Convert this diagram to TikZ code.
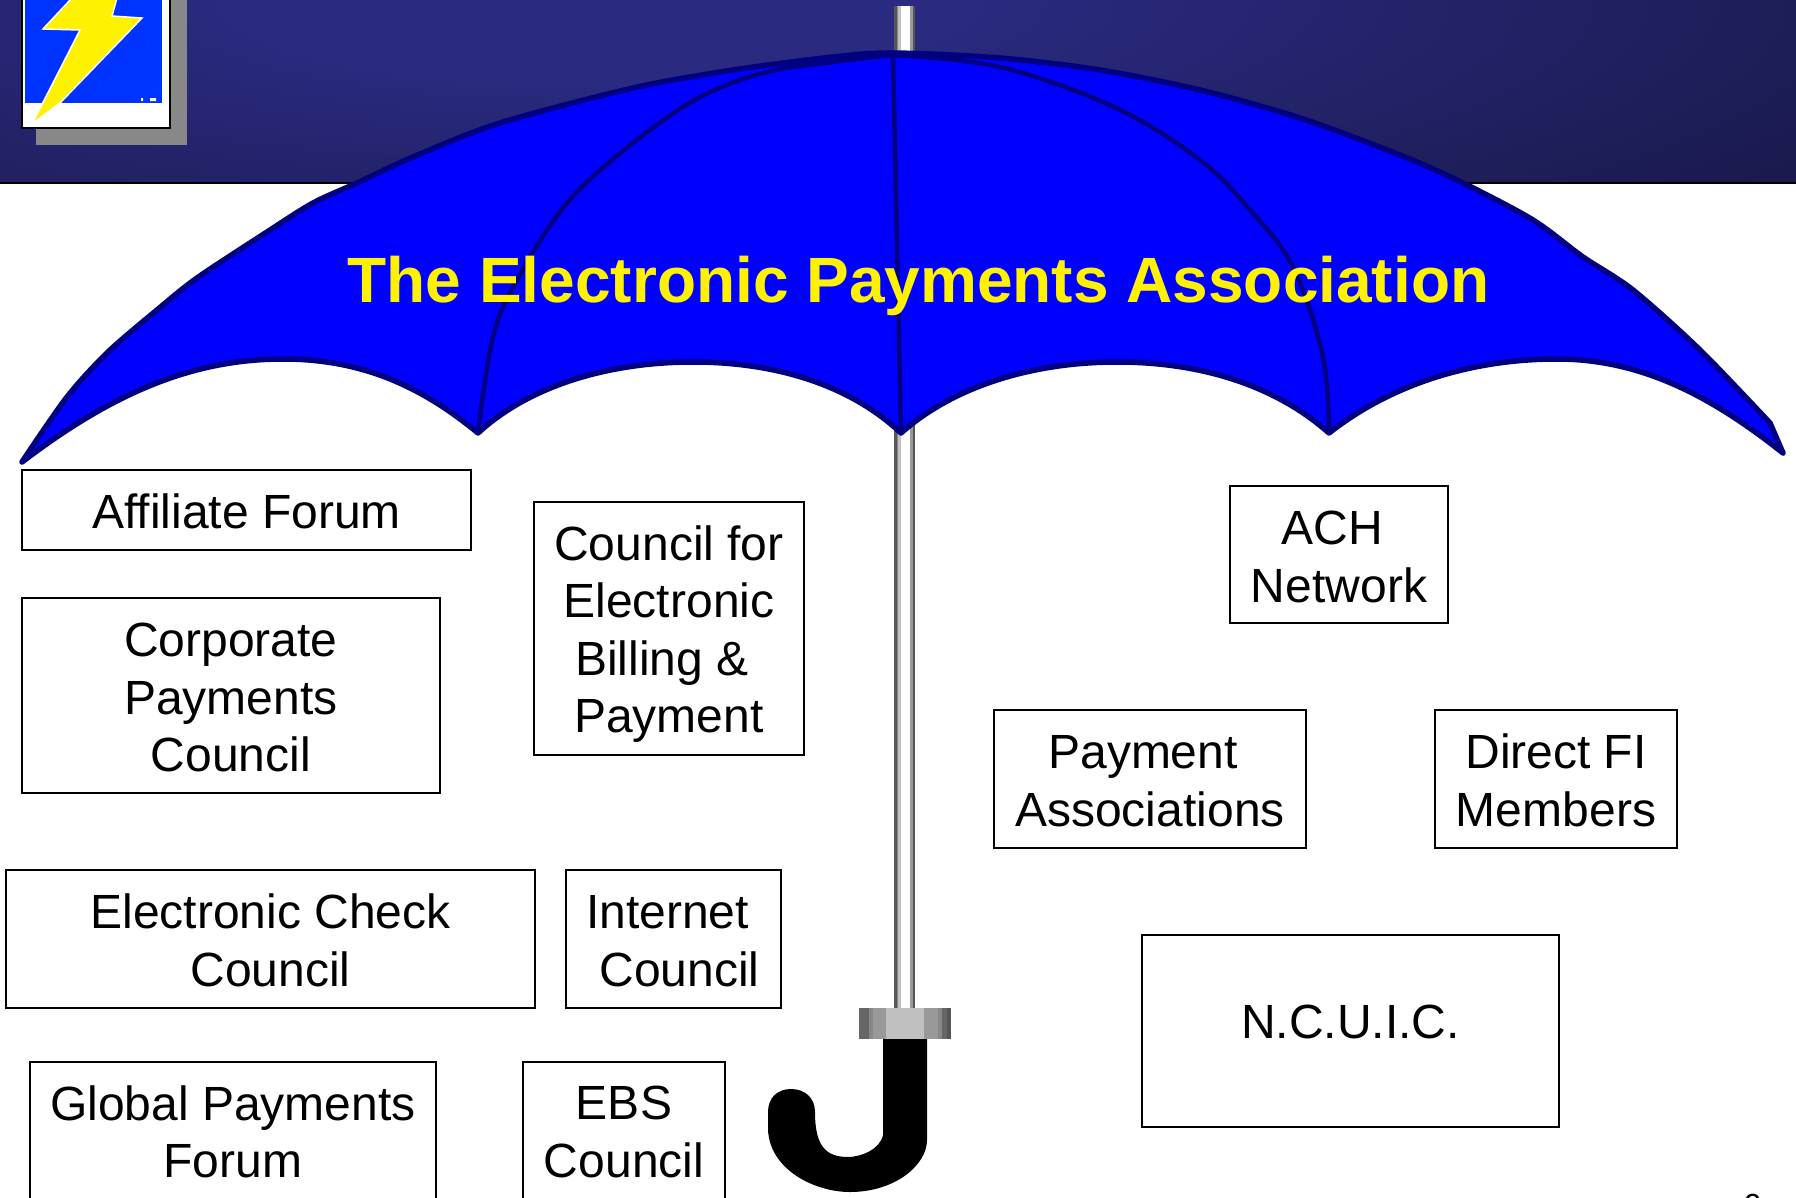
\documentclass[tikz,border=0pt]{standalone}
\usepackage{fontspec}
\setmainfont{Liberation Sans}
\definecolor{hdrlight}{RGB}{42,42,128}
\definecolor{hdrdark}{RGB}{21,21,62}
\definecolor{rib}{RGB}{0,0,128}
\definecolor{canopy}{RGB}{0,0,255}
\definecolor{logoblue}{RGB}{0,51,255}
\definecolor{sd}{RGB}{85,85,85}
\definecolor{sg}{RGB}{136,136,136}
\definecolor{sl}{RGB}{192,192,192}
\definecolor{sm}{RGB}{153,153,153}
\definecolor{fd}{RGB}{102,102,102}
\pgfdeclareradialshading{hdrglow}{\pgfpoint{0bp}{0bp}}{color(0bp)=(hdrlight); color(5bp)=(hdrlight); color(25bp)=(hdrdark); color(50bp)=(hdrdark)}
\tikzset{
  boxnode/.style={draw=black,line width=2pt,fill=white,inner sep=0pt,align=center,
    font=\fontsize{48}{57.6}\selectfont,text=black},
  ribline/.style={draw=rib,line width=4.5pt,line join=round},
}
\begin{document}
\begin{tikzpicture}[x=1pt,y=-1pt]
\useasboundingbox (0,0) rectangle (1796,1197);
\fill[white] (0,0) rectangle (1796,1197);
% header band
\begin{scope}
\clip (0,0) rectangle (1796,183);
\fill[hdrdark] (0,0) rectangle (1796,183);
\shade[shading=hdrglow] (600,0) ellipse [x radius=1750,y radius=400];
\end{scope}
\fill[black] (0,182) rectangle (1796,184);
% logo
\fill[sg] (36,0) rectangle (187,145);
\fill[white,draw=black,line width=2pt] (22,-5) rectangle (170,128);
\fill[logoblue] (25,-5) rectangle (162,103);
\fill[yellow,draw=white,line width=1.5pt] (72,-2) -- (43,29) -- (80,30) -- (32,124) -- (60,103) -- (142,18) -- (112,16) -- (117,-2) -- cycle;
\fill[white] (141,98) rectangle (143,101) (150,98) rectangle (156,101);
% shaft
\foreach \a/\b/\c in {894/897/sd,897/898/sg,898/901/sl,901/910/white,910/913/sm,913/915/sd}{
  \fill[\c] (\a,6) rectangle (\b,1008);
}
% ferrule
\foreach \a/\b/\c in {859/869/fd,869/873/sg,873/886/sm,886/924/sl,924/938/sm,938/942/sg,942/947/fd,947/951/sd}{
  \fill[\c] (\a,1008) rectangle (\b,1039);
}
% handle
\fill[black] (883,1039) -- (883,1135) .. controls (880,1150) and (860,1157) .. (848,1157)
  .. controls (825,1157) and (815,1145) .. (815,1112)
  .. controls (815,1098) and (805,1089) .. (791,1089)
  .. controls (777,1089) and (768,1098) .. (768,1112) -- (768,1130)
  .. controls (770,1170) and (815,1192) .. (850,1192)
  .. controls (895,1192) and (927,1165) .. (927,1140) -- (927,1039) -- cycle;
% canopy
\filldraw[fill=canopy,ribline,line width=5.5pt]
  plot[smooth,tension=.5] coordinates {(22,462) (67,397) (108,352) (157,310) (197,278) (267,232) (313,203) (357,183) (413,157) (500,123) (633,88) (733,70) (833,57) (893,53) (1000,58) (1100,70) (1200,90) (1300,118) (1400,155) (1463,183) (1533,220) (1583,257) (1633,290) (1700,350) (1770,423)}
  -- (1783,453)
  .. controls (1710,395) and (1640,359) .. (1557,359)
  .. controls (1470,359) and (1390,385) .. (1329,433)
  .. controls (1275,385) and (1200,362) .. (1117,362)
  .. controls (1035,362) and (955,385) .. (901,433)
  .. controls (850,385) and (776,362) .. (693,362)
  .. controls (610,362) and (530,385) .. (478,433)
  .. controls (420,385) and (360,359) .. (283,359)
  .. controls (190,359) and (110,395) .. (22,462)
  -- cycle;
% ribs
\draw[ribline] (893,55) -- (901,433);
\draw[ribline] plot[smooth,tension=.6] coordinates {(893,55) (833,62) (767,72) (700,97) (633,143) (567,203) (517,280) (493,337) (478,433)};
\draw[ribline] plot[smooth,tension=.6] coordinates {(893,55) (1000,67) (1114,107) (1200,160) (1250,210) (1293,267) (1323,357) (1329,433)};
% title
\node[text=yellow,font=\fontsize{64}{74}\selectfont\bfseries,inner sep=0pt] (title) at (918.5,286) {The Electronic Payments Association};
% boxes
\node[boxnode,minimum width=449pt,minimum height=80pt] (affiliate) at (246.5,510) {\rule{0pt}{37pt}Affiliate Forum};
\node[boxnode,minimum width=418pt,minimum height=195pt] (corporate) at (231,695.5) {\rule{0pt}{38pt}Corporate\\Payments\\Council};
\node[boxnode,minimum width=270pt,minimum height=253pt] (billing) at (669,628.5) {\rule{0pt}{46pt}Council for\\Electronic\\\hspace*{-14pt}Billing \&\\Payment};
\node[boxnode,minimum width=529pt,minimum height=138pt] (check) at (270.5,939) {\rule{0pt}{38pt}Electronic Check\\Council};
\node[boxnode,minimum width=215pt,minimum height=138pt] (internet) at (673.5,939) {\rule{0pt}{38pt}\hspace*{-12pt}Internet\\\hspace*{12pt}Council};
\node[boxnode,minimum width=406pt,minimum height=140pt] (global) at (233,1132) {Global Payments\\Forum};
\node[boxnode,minimum width=202pt,minimum height=140pt] (ebs) at (624,1132) {EBS\\Council};
\node[boxnode,minimum width=218pt,minimum height=137pt] (ach) at (1339,554.5) {\rule{0pt}{38pt}\hspace*{-14pt}ACH\\Network};
\node[boxnode,minimum width=312pt,minimum height=138pt] (payassoc) at (1150,779) {\rule{0pt}{38pt}\hspace*{-14pt}Payment\\Associations};
\node[boxnode,minimum width=242pt,minimum height=138pt] (direct) at (1556,779) {\rule{0pt}{38pt}Direct FI\\Members};
\node[boxnode,minimum width=417pt,minimum height=192pt] (ncuic) at (1350.5,1031) {\rule[-18pt]{0pt}{1pt}N.C.U.I.C.};
% page number, almost wholly below the page edge
\node[anchor=north,inner sep=0pt,font=\fontsize{32}{36}\selectfont] (pagenum) at (1753,1194) {9};
\end{tikzpicture}
\end{document}
